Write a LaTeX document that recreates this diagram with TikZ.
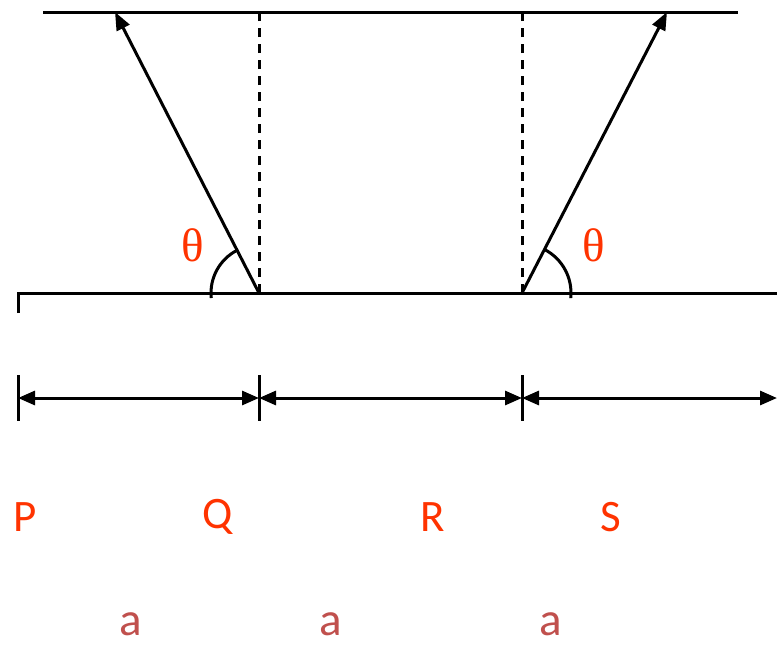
\documentclass[tikz,border=0pt]{standalone}
\usepackage{fontspec}
\setsansfont{Carlito}
\newfontfamily\thetafont{Liberation Serif}
\usetikzlibrary{arrows.meta,positioning}
\definecolor{ptred}{HTML}{FF3300}
\definecolor{dimred}{HTML}{C0504D}
\tikzset{
  line/.style={line width=3pt},
  guide/.style={line width=3pt, dash pattern=on 9pt off 7pt},
  ray/.style={line width=3pt, -{Triangle[length=18pt,width=14pt]}},
  dimline/.style={line width=3pt, {Triangle[length=17pt,width=14pt]}-{Triangle[length=17pt,width=14pt]}},
  ptlbl/.style={font=\sffamily\fontsize{45}{48}\selectfont, text=ptred, inner sep=0pt},
  dimlbl/.style={font=\sffamily\fontsize{47}{50}\selectfont, text=dimred, inner sep=0pt},
  anglbl/.style={font=\thetafont\fontsize{47}{50}\selectfont, text=ptred, inner sep=0pt}
}

\begin{document}
\begin{tikzpicture}[x=1pt, y=-1pt]
  \useasboundingbox (0,0) rectangle (777,646);

  % the two plates
  \coordinate (topL) at (43,12);
  \coordinate (topR) at (738,12);
  \coordinate (botL) at (18,293);
  \coordinate (botR) at (777,293);
  \coordinate (tick) at (18,313);
  \draw[line] (topL) -- (topR);
  \draw[line] (tick) -- (botL) -- (botR);

  % feet of the rays and the normals
  \coordinate (Q0) at (259,293);
  \coordinate (R0) at (522,293);
  \coordinate (Q1) at (259,12);
  \coordinate (R1) at (522,12);
  \coordinate (hitL) at (115,12);
  \coordinate (hitR) at (667,12);
  \draw[guide] (Q0) -- (Q1);
  \draw[guide] (R0) -- (R1);
  \draw[ray] (Q0) -- (hitL);
  \draw[ray] (R0) -- (hitR);

  % angles
  \draw[line] (Q0) ++(174:48) arc[start angle=174, end angle=243, radius=48];
  \draw[line] (R0) ++(6:49) arc[start angle=6, end angle=-63, radius=49];
  \node[anglbl] (thL) at (193,245) {θ};
  \node[anglbl] (thR) at (594,245) {θ};

  % dimension line
  \coordinate (d0) at (18,398);
  \coordinate (d1) at (259,398);
  \coordinate (d2) at (522,398);
  \coordinate (d3) at (777,398);
  \foreach \x in {18,259,522} {
    \draw[line] (\x,375) -- (\x,421);
  }
  \draw[dimline] (d0) -- (d1);
  \draw[dimline] (d1) -- (d2);
  \draw[dimline] (d2) -- (d3);

  % labels
  \node[ptlbl] (P) at (25,517) {P};
  \node[ptlbl] (Q) at (218,517) {Q};
  \node[ptlbl] (R) at (433,517) {R};
  \node[ptlbl] (S) at (611,517) {S};
  \node[dimlbl] (a1) at (131,624) {a};
  \node[dimlbl] (a2) at (331,624) {a};
  \node[dimlbl] (a3) at (551,624) {a};
\end{tikzpicture}
\end{document}
